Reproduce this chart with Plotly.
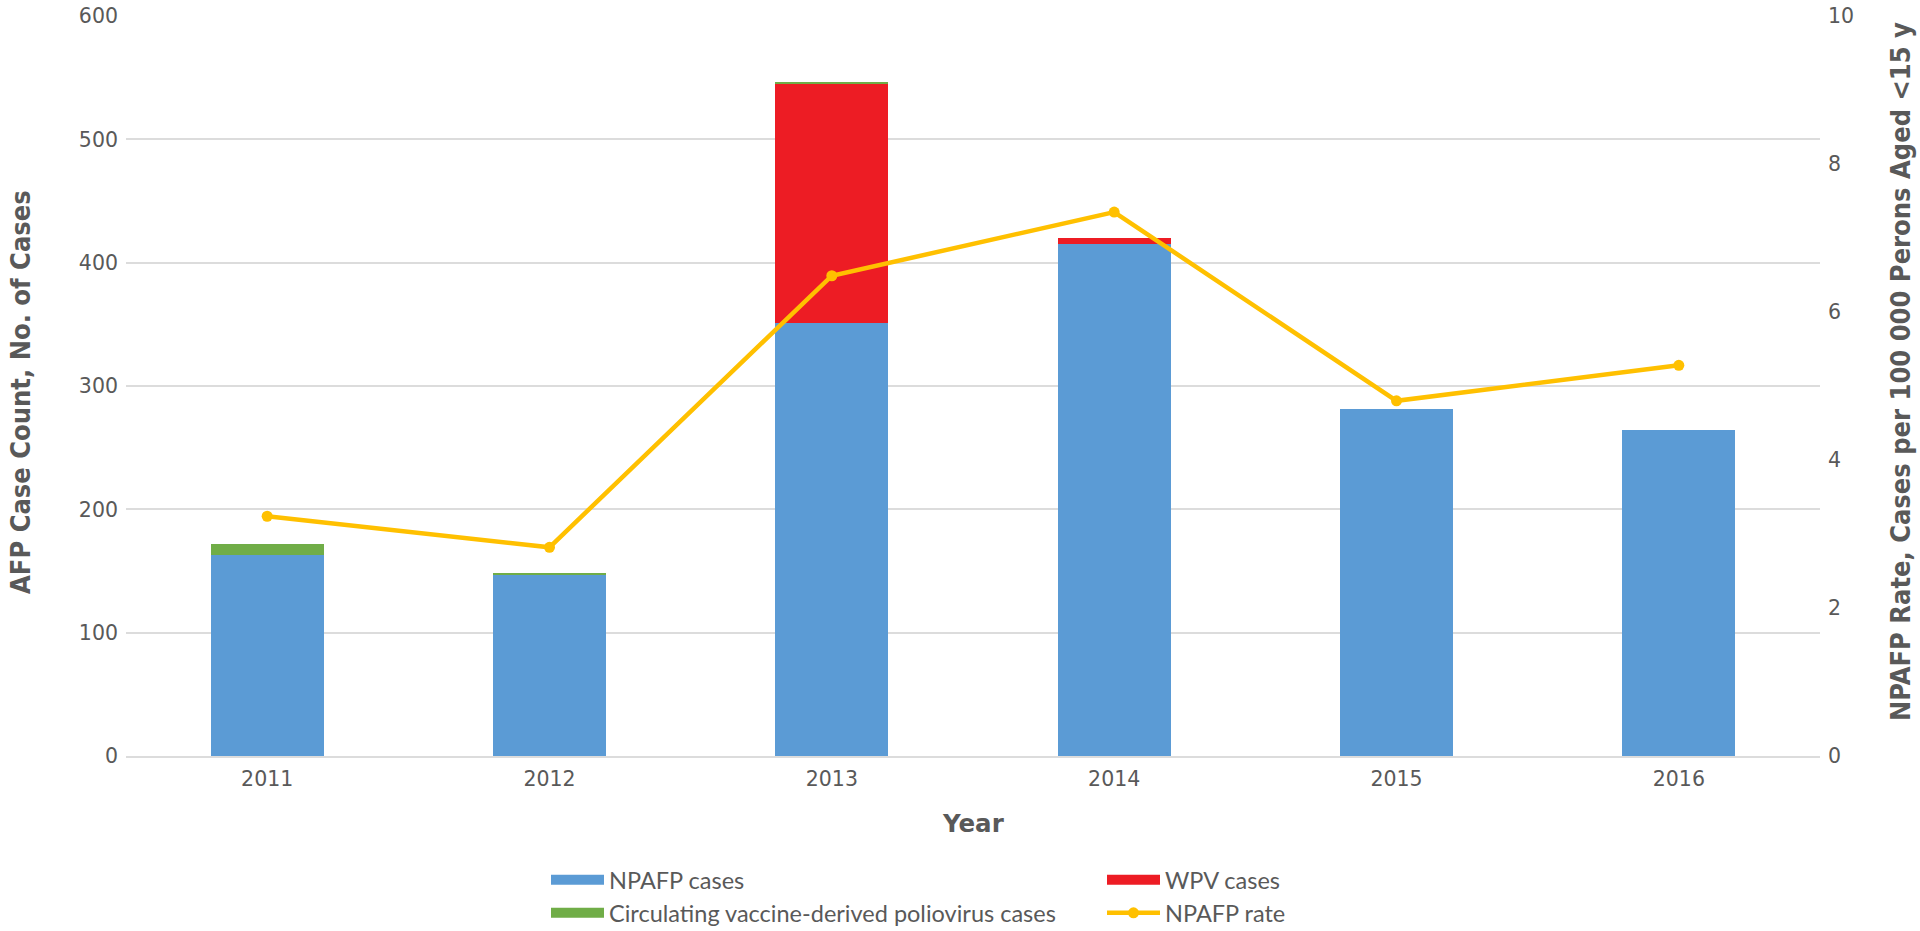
import plotly.graph_objects as go

years = ['2011', '2012', '2013', '2014', '2015', '2016']
npafp_cases = [163, 147, 351, 415, 281, 264]
wpv_cases = [0, 0, 194, 5, 0, 0]
cvdpv_cases = [9, 1, 1, 0, 0, 0]
npafp_rate = [3.24, 2.82, 6.49, 7.35, 4.80, 5.28]

y_ticks = [0, 100, 200, 300, 400, 500, 600]
y2_ticks = [0, 2, 4, 6, 8, 10]

BLUE = '#5B9BD5'
RED = '#ED1C24'
GREEN = '#70AD47'
GOLD = '#FFC000'
TXT = '#595959'
GRID = '#DCDCDC'

tick_font = dict(family='DejaVu Sans', size=20.5, color=TXT)
title_font = dict(family='Liberation Sans Narrow, DejaVu Sans Condensed, sans-serif', size=27, color=TXT, weight='bold')
legend_font = dict(family='Lato, sans-serif', size=23.5, color=TXT)

# plot area in pixels
L, R, T, B = 126, 1820, 16, 756
PW, PH = R - L, B - T


def px(x):
    return (x - L) / PW


def py(y):
    return (B - y) / PH


fig = go.Figure()
fig.add_trace(go.Bar(x=years, y=npafp_cases, marker=dict(color=BLUE, line=dict(width=0)), width=0.4,
                     name='NPAFP cases', showlegend=False))
fig.add_trace(go.Bar(x=years, y=wpv_cases, marker=dict(color=RED, line=dict(width=0)), width=0.4,
                     name='WPV cases', showlegend=False))
fig.add_trace(go.Bar(x=years, y=cvdpv_cases, marker=dict(color=GREEN, line=dict(width=0)), width=0.4,
                     name='Circulating vaccine-derived poliovirus cases', showlegend=False))
fig.add_trace(go.Scatter(x=years, y=npafp_rate, yaxis='y2', mode='lines+markers',
                         line=dict(color=GOLD, width=4.5), marker=dict(size=11, color=GOLD),
                         name='NPAFP rate', legend='legend4'))

# legend-only entries for the bar series (wide swatches)
fig.add_trace(go.Scatter(x=[None], y=[None], mode='lines', line=dict(color=BLUE, width=15),
                         name='NPAFP cases', legend='legend'))
fig.add_trace(go.Scatter(x=[None], y=[None], mode='lines', line=dict(color=RED, width=15),
                         name='WPV cases', legend='legend2'))
fig.add_trace(go.Scatter(x=[None], y=[None], mode='lines', line=dict(color=GREEN, width=15),
                         name='Circulating vaccine-derived poliovirus cases', legend='legend3'))

leg_common = dict(font=legend_font, bgcolor='rgba(0,0,0,0)', xanchor='left', yanchor='middle',
                  orientation='h', itemwidth=53, tracegroupgap=0)

lx1, lx2 = 546, 1102
ly1, ly2 = 880, 913

fig.update_layout(
    width=1920, height=931,
    margin=dict(l=L, r=1920 - R, t=T, b=931 - B, autoexpand=False),
    paper_bgcolor='white', plot_bgcolor='white',
    barmode='stack', bargap=0.6,
    xaxis=dict(type='category', tickfont=tick_font, showgrid=False, showline=True, linecolor=GRID,
               linewidth=1.5, ticks='', automargin=False, ticklabelstandoff=4),
    yaxis=dict(range=[0, 600], tickvals=y_ticks, tickfont=tick_font, showgrid=True, gridcolor=GRID,
               gridwidth=1.5, zeroline=False, ticks='', showline=False, automargin=False,
               ticklabelstandoff=7),
    yaxis2=dict(range=[0, 10], tickvals=y2_ticks, tickfont=tick_font, overlaying='y', side='right',
                showgrid=False, zeroline=False, ticks='', showline=False, automargin=False,
                ticklabelstandoff=7),
    legend=dict(x=px(lx1), y=py(ly1), **leg_common),
    legend2=dict(x=px(lx2), y=py(ly1), **leg_common),
    legend3=dict(x=px(lx1), y=py(ly2), **leg_common),
    legend4=dict(x=px(lx2), y=py(ly2), **leg_common),
    annotations=[
        dict(text='Year', xref='paper', yref='paper', x=0.5 * (px(L) + px(R)), y=py(823),
             xanchor='center', yanchor='middle', showarrow=False,
             font=dict(family='DejaVu Sans', size=24.5, color=TXT, weight='bold')),
        dict(text='AFP Case Count, No. of Cases', xref='paper', yref='paper', x=px(21), y=py(392),
             xanchor='center', yanchor='middle', textangle=-90, showarrow=False, font=title_font),
        dict(text='NPAFP Rate, Cases per 100 000 Perons Aged <15 y', xref='paper', yref='paper',
             x=px(1900), y=py(372), xanchor='center', yanchor='middle', textangle=-90,
             showarrow=False, font=title_font),
    ],
)

fig.write_html('out.html', config={'displayModeBar': False},
               post_script="document.body.style.margin='0';document.body.style.overflow='hidden';")
